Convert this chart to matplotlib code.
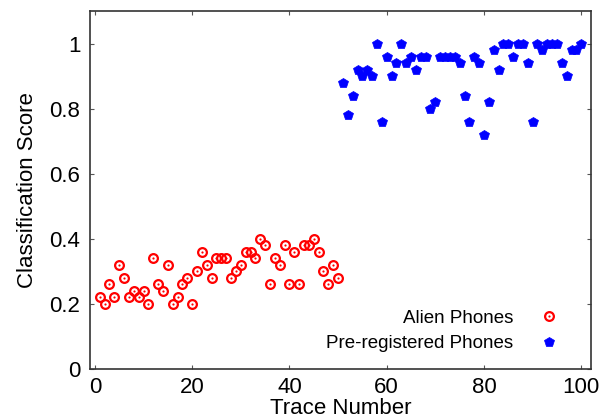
import numpy as np
import matplotlib
matplotlib.use('Agg')
import matplotlib.pyplot as plt
from matplotlib.legend_handler import HandlerTuple

plt.rcParams['font.family'] = ['Liberation Sans', 'DejaVu Sans']
plt.rcParams['font.size'] = 16

# Datos
traza_alien = list(range(1, 51))
score_alien = [0.22, 0.20, 0.26, 0.22, 0.32, 0.28, 0.22, 0.24, 0.22, 0.24,
               0.20, 0.34, 0.26, 0.24, 0.32, 0.20, 0.22, 0.26, 0.28, 0.20,
               0.30, 0.36, 0.32, 0.28, 0.34, 0.34, 0.34, 0.28, 0.30, 0.32,
               0.36, 0.36, 0.34, 0.40, 0.38, 0.26, 0.34, 0.32, 0.38, 0.26,
               0.36, 0.26, 0.38, 0.38, 0.40, 0.36, 0.30, 0.26, 0.32, 0.28]

traza_reg = list(range(51, 101))
score_reg = [0.88, 0.78, 0.84, 0.92, 0.90, 0.92, 0.90, 1.00, 0.76, 0.96,
             0.90, 0.94, 1.00, 0.94, 0.96, 0.92, 0.96, 0.96, 0.80, 0.82,
             0.96, 0.96, 0.96, 0.96, 0.94, 0.84, 0.76, 0.96, 0.94, 0.72,
             0.82, 0.98, 0.92, 1.00, 1.00, 0.96, 1.00, 1.00, 0.94, 0.76,
             1.00, 0.98, 1.00, 1.00, 1.00, 0.94, 0.90, 0.98, 0.98, 1.00]

fig = plt.figure(figsize=(6.03, 4.2), dpi=100)
ax = fig.add_axes([90 / 603, 51 / 420, 501 / 603, 358 / 420])

# Alien: circulo con punto central
circ, = ax.plot(traza_alien, score_alien, linestyle='none', marker='o',
                ms=6.3, mfc='none', mec='red', mew=1.6)
punto, = ax.plot(traza_alien, score_alien, linestyle='none', marker='o',
                 ms=1.6, mfc='red', mec='red', mew=0)
# Pre-registrados: pentagono relleno
pent, = ax.plot(traza_reg, score_reg, linestyle='none', marker='p',
                ms=7.5, mfc='blue', mec='blue', mew=0.5)

ax.set_xlim(-1, 102)
ax.set_ylim(0, 1.1)
ax.set_xticks([0, 20, 40, 60, 80, 100])
ax.set_yticks([0, 0.2, 0.4, 0.6, 0.8, 1])
ax.set_yticklabels(['0', '0.2', '0.4', '0.6', '0.8', '1'])
ax.tick_params(direction='in', length=3, width=0.8, color='#555555',
               top=True, right=True, labelsize=16)
ax.tick_params(axis='x', pad=6)
ax.tick_params(axis='y', pad=7)
for s in ax.spines.values():
    s.set_linewidth(1.2)
    s.set_color('#333333')

ax.set_xlabel('Trace Number', labelpad=0)
ax.set_ylabel('Classification Score', labelpad=8)

leg = ax.legend([(circ, punto), pent], ['Alien Phones', 'Pre-registered Phones'],
                handler_map={tuple: HandlerTuple(ndivide=1, pad=0)},
                markerfirst=False, frameon=False, loc='lower right',
                bbox_to_anchor=(0.961, 0.01), handlelength=1.0,
                handletextpad=1.4, labelspacing=0.45, fontsize=13.5,
                borderpad=0.2)

fig.savefig('out.png', dpi=100)
